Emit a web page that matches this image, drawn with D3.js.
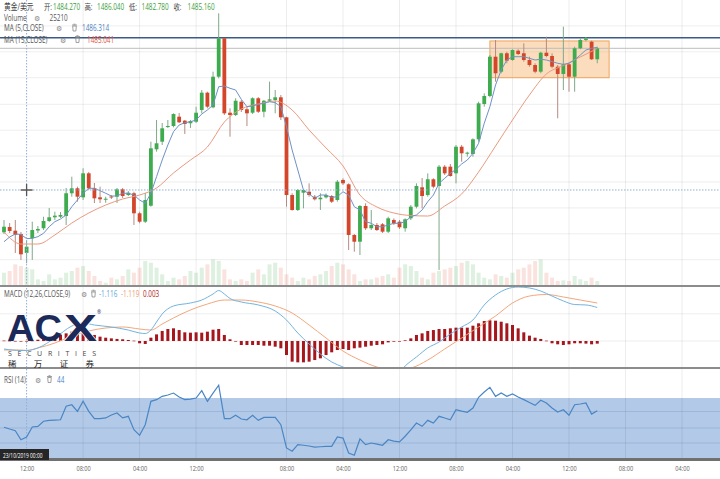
<!DOCTYPE html>
<html>
<head>
<meta charset="utf-8">
<script src="https://cdn.jsdelivr.net/npm/d3@7/dist/d3.min.js"></script>
<style>
  body { margin: 0; background: #fff; }
  svg { display: block; font-family: "Open Sans", "Noto Sans", "Noto Sans CJK SC", sans-serif; }
</style>
</head>
<body>
<div id="chart"></div>
<script>
// 2h candles, XAU/USD
const openP = [1487.21,1487.97,1487.44,1486.97,1484.27,1486.36,1487.47,1487.79,1488.83,1489.36,
  1489.44,1489.54,1492.79,1493.50,1492.21,1495.64,1493.50,1492.21,1491.87,1492.33,
  1492.30,1493.36,1492.54,1492.79,1489.93,1488.73,1491.01,1499.07,1500.16,1502.26,
  1502.40,1503.73,1503.16,1502.79,1503.01,1504.69,1507.16,1505.07,1509.44,1514.93,
  1504.30,1503.97,1505.87,1504.79,1504.30,1506.36,1504.44,1506.01,1506.11,1506.50,
  1503.64,1492.54,1490.40,1492.87,1493.01,1492.30,1491.93,1492.21,1492.40,1491.83,
  1494.69,1494.07,1486.83,1485.87,1490.97,1487.79,1488.26,1488.36,1487.30,1488.97,
  1488.73,1487.79,1489.21,1490.87,1493.64,1492.54,1494.79,1493.83,1496.59,1496.59,
  1495.64,1499.44,1498.44,1498.40,1500.50,1505.54,1506.69,1512.30,1510.16,1512.79,
  1511.83,1513.16,1512.79,1511.83,1511.11,1510.16,1512.87,1512.40,1510.87,1509.83,
  1511.21,1509.44,1513.50,1514.69,1514.44,1511.93];
const highP = [1488.97,1488.54,1488.97,1487.26,1486.04,1488.73,1488.11,1489.44,1490.69,1490.16,
  1490.11,1493.54,1495.16,1493.73,1496.36,1495.83,1494.26,1493.73,1492.30,1492.54,
  1493.54,1493.54,1493.11,1493.01,1490.16,1492.83,1500.16,1503.26,1502.83,1503.26,
  1504.21,1504.26,1503.26,1503.26,1505.16,1507.54,1507.30,1510.16,1518.50,1514.97,
  1504.93,1506.36,1506.11,1505.16,1506.50,1506.54,1506.11,1508.73,1507.54,1506.83,
  1503.73,1492.79,1493.40,1493.36,1494.21,1492.54,1492.79,1492.76,1492.54,1494.69,
  1494.93,1494.21,1486.97,1491.11,1491.36,1490.40,1488.54,1488.54,1489.44,1489.21,
  1488.97,1489.21,1491.11,1494.21,1494.97,1495.64,1494.93,1496.83,1496.83,1496.97,
  1499.69,1499.69,1498.73,1500.64,1505.87,1507.07,1512.54,1514.69,1512.87,1513.01,
  1513.36,1513.36,1514.21,1512.30,1511.36,1513.01,1515.16,1512.79,1511.11,1516.59,
  1511.36,1513.73,1514.93,1515.11,1514.59,1513.73];
const lowP = [1486.97,1487.11,1484.26,1483.26,1482.78,1483.26,1487.11,1487.54,1488.69,1488.97,
  1489.26,1488.26,1492.30,1491.59,1491.83,1493.26,1491.40,1491.40,1491.44,1491.97,
  1491.40,1492.11,1492.40,1488.26,1488.50,1488.54,1490.87,1498.73,1499.69,1502.11,
  1502.21,1502.83,1501.26,1502.11,1502.83,1504.21,1504.93,1504.93,1509.21,1503.97,
  1500.87,1503.83,1504.40,1502.40,1504.11,1504.26,1503.64,1505.87,1504.21,1503.26,
  1490.87,1490.30,1490.26,1490.64,1492.30,1491.76,1490.40,1492.04,1491.40,1491.59,
  1493.97,1484.69,1484.44,1483.97,1487.54,1487.54,1487.40,1487.11,1487.11,1488.26,
  1487.69,1487.30,1488.97,1490.64,1490.64,1492.30,1493.50,1481.83,1495.40,1495.16,
  1494.21,1497.30,1498.01,1498.01,1500.16,1505.16,1506.50,1508.73,1509.93,1511.36,
  1511.73,1512.54,1511.59,1510.87,1509.93,1509.93,1512.21,1510.64,1503.50,1507.54,
  1507.30,1507.30,1513.36,1514.47,1511.83,1511.36];
const closeP = [1488.01,1487.40,1486.87,1484.07,1485.16,1487.54,1487.69,1488.83,1489.36,1489.59,
  1489.69,1492.79,1493.50,1492.30,1495.64,1493.50,1492.07,1491.93,1492.01,1492.19,
  1493.36,1492.40,1492.87,1489.93,1488.73,1491.83,1499.21,1499.93,1502.07,1502.40,
  1504.11,1502.93,1502.69,1503.11,1504.30,1507.16,1505.16,1509.44,1514.93,1504.21,
  1503.97,1506.01,1504.69,1504.21,1506.36,1504.44,1506.01,1506.21,1506.50,1503.64,
  1492.54,1490.40,1493.26,1493.26,1492.54,1491.93,1492.16,1492.54,1491.59,1494.44,
  1494.21,1486.83,1485.87,1490.97,1487.79,1488.26,1487.54,1487.30,1489.21,1488.50,
  1487.93,1489.07,1490.87,1493.83,1492.40,1494.79,1493.73,1496.59,1495.64,1495.26,
  1499.44,1498.50,1498.59,1500.50,1505.64,1506.69,1512.30,1509.93,1512.79,1511.73,
  1513.26,1512.69,1511.83,1511.11,1510.16,1512.87,1512.40,1510.87,1509.83,1511.21,
  1509.44,1513.50,1514.69,1514.90,1511.93,1513.50];
const volume = [18360,20660,29840,27540,25210,22950,9180,6890,16070,9180,
  11480,18360,20660,25250,27540,20660,13770,6890,4590,11480,
  9180,13770,22950,18360,25250,34430,32130,25250,16070,6890,
  11480,9180,13770,20660,18360,25250,29840,36720,34430,22950,
  9180,6890,9180,6890,18360,22950,16070,29840,32130,25250,
  16070,11480,6890,11480,9180,13770,16070,20660,27540,32130,
  29840,22950,16070,6890,9180,9180,11480,13770,16070,11480,
  25250,29840,27540,20660,11480,9180,18360,20660,22950,25250,
  27540,32130,34430,29840,18360,11480,9180,16070,13770,11480,
  18360,22950,25250,29840,34430,36720,18360,11480,6890,7800,
  6890,13770,9180,6890,11480,6890];
const ma5 = [1485.87,1486.54,1486.97,1486.90,1486.31,1486.36,1486.59,1487.07,1488.01,1488.73,
  1489.11,1489.69,1490.87,1491.83,1492.79,1493.50,1493.50,1493.16,1492.79,1492.40,
  1492.40,1492.79,1492.79,1492.54,1491.83,1491.36,1492.79,1495.16,1497.54,1499.69,
  1501.59,1502.54,1502.87,1503.01,1503.26,1504.11,1504.69,1505.40,1508.01,1508.11,
  1507.79,1507.54,1506.21,1505.16,1505.26,1505.50,1505.64,1505.87,1505.73,1505.16,
  1502.30,1498.97,1496.11,1493.26,1492.69,1492.07,1492.54,1492.54,1492.21,1492.30,
  1493.01,1492.54,1490.87,1490.40,1488.73,1488.50,1488.01,1488.01,1488.26,1488.50,
  1488.50,1488.73,1489.44,1489.69,1490.40,1491.59,1492.54,1494.21,1494.93,1495.64,
  1496.21,1496.97,1497.54,1498.50,1499.93,1502.79,1505.16,1508.26,1510.40,1511.83,
  1512.30,1512.30,1512.30,1512.07,1511.83,1511.93,1511.83,1511.59,1511.36,1511.21,
  1511.36,1511.83,1512.54,1513.26,1513.50,1513.64];
const ma15Idx = [0,3,6,9,12,15,18,21,24,27,30,33,36,39,42,45,48,51,54,57,60,63,66,69,72,75,78,81,84,87,90,93,96,99,102,105];
const ma15 = [1487.26,1485.54,1485.54,1486.83,1488.54,1489.97,1491.11,1491.97,1492.54,1493.54,
  1495.69,1497.54,1499.40,1502.97,1504.83,1505.54,1505.97,1504.69,1501.83,1499.26,
  1496.69,1492.54,1490.83,1489.97,1489.61,1489.54,1490.97,1492.69,1495.83,1499.54,
  1503.26,1506.83,1509.83,1511.04,1512.26,1513.47];
const macdIdx = [0,3,4,6,9,12,14,16,19,22,24,25,26,27,28,30,33,35,37,38,39,40,42,45,48,50,52,54,56,58,
  60,62,64,66,68,70,71,73,75,77,79,81,83,85,87,89,91,93,95,97,99,101,103,105];
const macdLine = [-0.94,-1.12,-1.116,-0.82,0.35,1.76,2.12,1.88,1.65,1.29,0.94,0.88,1.29,2.24,3.18,4.12,4.47,4.82,5.53,5.94,
  5.53,5.00,4.59,4.24,3.53,2.47,0.94,-0.35,-1.53,-2.47,-3.06,-3.65,-4.12,-4.24,-4.24,-3.65,-2.94,-1.88,-0.82,-0.12,
  0.82,1.65,2.47,4.24,5.41,6.12,6.35,6.24,5.88,5.29,4.71,4.29,4.24,3.94];
const signalIdx = [0,3,4,6,9,12,15,18,21,24,26,28,30,33,36,39,42,45,48,51,54,57,60,63,66,69,72,75,78,81,84,87,90,93,96,99,102,105];
const signalLine = [-1.06,-1.06,-1.119,-0.82,-0.24,0.59,1.18,1.53,1.65,1.41,1.29,2.00,2.71,3.65,4.35,4.82,4.82,4.59,4.12,3.29,
  1.88,0.35,-1.18,-2.24,-3.06,-3.41,-3.18,-2.24,-0.94,0.35,1.65,2.94,4.47,5.29,5.47,5.18,4.82,4.47];
const macdHist = [0.05,0.03,0.01,-0.01,0.003,0.05,0.15,0.3,0.45,0.6,
  0.75,0.90,1.10,1.18,1.10,0.98,0.71,0.51,0.39,0.31,
  0.24,0.20,0.12,0.04,-0.27,-0.35,0.39,0.78,1.18,1.41,
  1.49,1.29,1.02,0.98,1.02,0.98,1.10,1.33,1.41,0.71,
  0.20,-0.05,-0.47,-0.47,-0.47,-0.47,-0.55,-0.55,-0.67,-0.86,
  -1.65,-2.43,-2.51,-2.51,-2.43,-2.24,-2.04,-1.65,-1.33,-1.06,
  -0.94,-1.06,-0.86,-0.78,-0.67,-0.55,-0.47,-0.39,-0.16,-0.08,
  -0.02,0.08,0.31,0.71,0.90,1.18,1.29,1.41,1.41,1.49,
  1.57,1.57,1.57,1.80,2.08,2.35,2.43,2.39,2.27,2.08,
  1.88,1.49,1.02,0.63,0.39,0.24,0.04,-0.27,-0.39,-0.47,
  -0.39,-0.27,-0.27,-0.31,-0.39,-0.31];
const rsi = [50.5,49.3,48.2,42.2,44,50.7,51.1,54.5,55.1,55.3,
  55.5,64.5,65.5,61.1,67.8,61.1,56.2,56.3,56.7,58.7,
  60.0,56.7,57.8,48.9,45.1,52.2,67.8,68.9,71.1,72.0,
  73.3,70.7,68.9,69.3,70.0,74.9,67.8,73.3,78.5,56.2,
  56.2,58.5,56.0,55.5,58.5,55.1,57.1,57.1,57.1,52.2,
  36.7,34.5,38.9,38.5,38.0,37.3,37.5,37.7,37.8,44.0,
  43.3,33.3,31.8,42.7,38.9,40.0,39.3,38.5,42.2,41.3,
  40.7,44.5,48.7,53.3,51.1,55.1,53.3,57.8,56.7,55.5,
  62.2,61.3,60.5,63.3,70.5,74.0,77.1,71.1,73.3,71.1,
  72.7,70.7,68.9,67.0,65.1,68.5,66.7,63.3,60.7,62.2,
  58.5,65.5,66.0,66.7,59.3,61.5];

const tickIdx = [4,14,24,34,50,60,70,80,90,100,110,120];
const tickLabels = ['12:00','08:00','04:00','12:00','08:00','04:00','12:00','08:00','04:00','12:00','08:00','04:00'];
const priceGrid = [1516.7,1513.0,1509.3,1505.5,1501.8,1498.1,1494.4,1490.7,1487.0,1483.3];
const macdGrid = [0, 3.2];
const rsiGrid = [40, 50, 61];

const resistance = 1515.0;      // dark horizontal line
const lastClose = 1513.50;      // grey price line
const zone = { i0: 86, i1: 107.1, p0: 1509.3, p1: 1514.55 };  // orange box
const cursor = { i: 4, p: 1493.26 };

const W = 720, H = 479;
const SQ = 0.75;   // picture is squeezed horizontally

const svg = d3.select('#chart').append('svg').attr('width', W).attr('height', H);

const x = d3.scaleLinear().domain([0, 126]).range([4, 4 + 5.65 * 126]);
const y = d3.scaleLinear().domain([1480, 1520.4]).range([282.8, 0]);
const yVol = d3.scaleLinear().domain([0, 40000]).range([286, 257]);
const yMacd = d3.scaleLinear().domain([-5, 6]).range([383.5, 290]);
const yRsi = d3.scaleLinear().domain([30, 90]).range([458, 368]);

const defs = svg.append('defs');
defs.append('clipPath').attr('id', 'clipMain').append('rect').attr('x', 0).attr('y', 0).attr('width', W).attr('height', 285);
defs.append('clipPath').attr('id', 'clipMacd').append('rect').attr('x', 0).attr('y', 287).attr('width', W).attr('height', 80);
defs.append('clipPath').attr('id', 'clipRsi').append('rect').attr('x', 0).attr('y', 369).attr('width', W).attr('height', 89);

const idx = d3.range(openP.length);

// RSI band 30-70
svg.append('rect')
  .attr('x', 0).attr('width', W)
  .attr('y', yRsi(70)).attr('height', yRsi(30) - yRsi(70))
  .attr('fill', '#b2c9e8');

// grid
const grid = svg.append('g').attr('stroke', 'rgba(0,0,0,0.07)').attr('stroke-width', 1);
grid.selectAll('line.v').data(tickIdx.slice(1)).join('line')
  .attr('x1', d => x(d)).attr('x2', d => x(d)).attr('y1', 0).attr('y2', 458);
grid.selectAll('line.p').data(priceGrid).join('line')
  .attr('x1', 0).attr('x2', W).attr('y1', d => y(d)).attr('y2', d => y(d));
grid.selectAll('line.m').data(macdGrid).join('line')
  .attr('x1', 0).attr('x2', W).attr('y1', d => yMacd(d)).attr('y2', d => yMacd(d));
grid.selectAll('line.r').data(rsiGrid).join('line')
  .attr('x1', 0).attr('x2', W).attr('y1', d => yRsi(d)).attr('y2', d => yRsi(d))
  .attr('stroke', 'rgba(60,100,160,0.18)');

// main panel
const main = svg.append('g').attr('clip-path', 'url(#clipMain)');

main.selectAll('rect.vol').data(idx).join('rect')
  .attr('x', i => x(i) - 2).attr('width', 4)
  .attr('y', i => yVol(volume[i])).attr('height', i => yVol(0) - yVol(volume[i]))
  .attr('fill', i => closeP[i] >= openP[i] ? 'rgba(70,170,80,0.18)' : 'rgba(225,100,75,0.18)');

main.append('rect')
  .attr('x', x(zone.i0)).attr('width', x(zone.i1) - x(zone.i0))
  .attr('y', y(zone.p1)).attr('height', y(zone.p0) - y(zone.p1))
  .attr('fill', 'rgba(246,170,90,0.4)').attr('stroke', '#eea55c').attr('stroke-width', 1);

main.append('line').attr('x1', 0).attr('x2', W).attr('y1', y(lastClose)).attr('y2', y(lastClose))
  .attr('stroke', '#bdbdbd').attr('stroke-width', 1);
main.append('line').attr('x1', 0).attr('x2', W).attr('y1', y(resistance)).attr('y2', y(resistance))
  .attr('stroke', '#3b5b86').attr('stroke-width', 1.5);

// crosshair
svg.append('line').attr('x1', 0).attr('x2', W).attr('y1', y(cursor.p)).attr('y2', y(cursor.p))
  .attr('stroke', '#8fb0d8').attr('stroke-dasharray', '1.5,1.5');
svg.append('line').attr('x1', x(cursor.i)).attr('x2', x(cursor.i)).attr('y1', 0).attr('y2', 458)
  .attr('stroke', '#8fb0d8').attr('stroke-dasharray', '1.5,1.5');

// candles
const up = '#3fab4f', down = '#d4462a';
main.selectAll('line.wick').data(idx).join('line')
  .attr('x1', i => x(i)).attr('x2', i => x(i))
  .attr('y1', i => y(highP[i])).attr('y2', i => y(lowP[i]))
  .attr('stroke', i => closeP[i] >= openP[i] ? '#7fa889' : '#b58a80').attr('stroke-width', 1);
main.selectAll('rect.body').data(idx).join('rect')
  .attr('x', i => x(i) - 1.9).attr('width', 3.8)
  .attr('y', i => y(Math.max(openP[i], closeP[i])))
  .attr('height', i => Math.max(1, Math.abs(y(openP[i]) - y(closeP[i]))))
  .attr('fill', i => closeP[i] >= openP[i] ? up : down);

// moving averages
main.append('path').datum(ma15.map((v, k) => [ma15Idx[k], v]))
  .attr('fill', 'none').attr('stroke', '#e99a80').attr('stroke-width', 1)
  .attr('d', d3.line().x(d => x(d[0])).y(d => y(d[1])).curve(d3.curveMonotoneX));
main.append('path').datum(ma5)
  .attr('fill', 'none').attr('stroke', '#6f92c6').attr('stroke-width', 1)
  .attr('d', d3.line().x((d, i) => x(i)).y(d => y(d)));

// MACD panel
const macdG = svg.append('g').attr('clip-path', 'url(#clipMacd)');
macdG.selectAll('rect.hist').data(idx).join('rect')
  .attr('x', i => x(i) - 1.5).attr('width', 3)
  .attr('y', i => yMacd(Math.max(0, macdHist[i])))
  .attr('height', i => Math.max(0.6, Math.abs(yMacd(macdHist[i]) - yMacd(0))))
  .attr('fill', '#a5161d');
macdG.append('path').datum(signalLine.map((v, k) => [signalIdx[k], v]))
  .attr('fill', 'none').attr('stroke', '#f2a77c').attr('stroke-width', 1)
  .attr('d', d3.line().x(d => x(d[0])).y(d => yMacd(d[1])).curve(d3.curveMonotoneX));
macdG.append('path').datum(macdLine.map((v, k) => [macdIdx[k], v]))
  .attr('fill', 'none').attr('stroke', '#72b4de').attr('stroke-width', 1)
  .attr('d', d3.line().x(d => x(d[0])).y(d => yMacd(d[1])).curve(d3.curveMonotoneX));

// RSI panel
svg.append('g').attr('clip-path', 'url(#clipRsi)')
  .append('path').datum(rsi)
  .attr('fill', 'none').attr('stroke', '#4a86c4').attr('stroke-width', 1.2)
  .attr('d', d3.line().x((d, i) => x(i)).y(d => yRsi(d)));

// panel separators
svg.append('line').attr('x1', 0).attr('x2', W).attr('y1', 286).attr('y2', 286).attr('stroke', '#8c8c8c').attr('stroke-width', 2);
svg.append('line').attr('x1', 0).attr('x2', W).attr('y1', 368).attr('y2', 368).attr('stroke', '#8c8c8c').attr('stroke-width', 2);
svg.append('line').attr('x1', 0).attr('x2', W).attr('y1', 459.5).attr('y2', 459.5).attr('stroke', '#707070').attr('stroke-width', 3);

// squeezed text helper
function label(str, px, py, color, size, anchor) {
  return svg.append('text')
    .attr('transform', `translate(${px},${py}) scale(${SQ},1)`)
    .attr('font-size', size || 8.5)
    .attr('fill', color || '#555')
    .attr('text-anchor', anchor || 'start')
    .text(str);
}
function gear(px, py) {
  svg.append('text').attr('x', px).attr('y', py).attr('font-size', 7)
    .attr('font-family', 'DejaVu Sans').attr('fill', '#888').text('\u2699');
}
function trash(px, py) {
  svg.append('path')
    .attr('d', `M${px},${py - 6}h5M${px + 1.5},${py - 6.8}h2M${px + 0.7},${py - 5}h3.6l-0.4,5h-2.8z`)
    .attr('fill', 'none').attr('stroke', '#888').attr('stroke-width', 0.8);
}

// header
const green = '#3c9e3c';
label('黄金/美元', 4, 10, '#444', 9);
label('开:', 44, 10, '#444'); label('1484.270', 53, 10, green);
label('高:', 84.5, 10, '#444'); label('1486.040', 97, 10, green);
label('低:', 129, 10, '#444'); label('1482.780', 141.5, 10, green);
label('收:', 173.5, 10, '#444'); label('1485.160', 187.5, 10, green);

label('Volume', 4, 20.5, '#555'); gear(34, 20.5); label('25210', 49.5, 20.5, '#555');
label('MA (5,CLOSE)', 4, 31, '#555'); gear(56, 31); trash(72, 31); label('1486.314', 82, 31, '#4d7fc2');
label('MA (15,CLOSE)', 4, 42.5, '#555'); gear(60, 42.5); trash(75, 42.5); label('1485.041', 87, 42.5, '#e0563e');

label('MACD (12,26,CLOSE,9)', 4, 297, '#555');
gear(81, 297); trash(91, 297);
label('-1.116', 99, 297, '#5aa8d8'); label('-1.119', 121, 297, '#ee9a6c'); label('0.003', 143, 297, '#b01c20');

label('RSI (14)', 4, 382.5, '#555');
gear(35, 382.5); trash(47, 382.5);
label('44', 57, 382.5, '#4a86c4');

// time axis
const axis = svg.append('g').attr('transform', 'translate(0,468)')
  .call(d3.axisBottom(x).tickValues(tickIdx).tickFormat((d, i) => tickLabels[i]).tickSize(0));
axis.select('.domain').remove();
axis.selectAll('text')
  .attr('fill', '#666').attr('font-size', 7.5).attr('dy', 0)
  .attr('font-family', '"Open Sans", sans-serif')
  .attr('transform', `scale(${SQ},1)`);

// cursor date box
svg.append('rect').attr('x', 0).attr('y', 449).attr('width', 49).attr('height', 11).attr('fill', '#262626');
label('23/10/2019  00:00', 3, 457.5, '#fff', 6.5);

// cursor cross
const cx = x(cursor.i), cy = y(cursor.p);
svg.append('path').attr('d', `M${cx - 6},${cy}h12M${cx},${cy - 6}v12`)
  .attr('stroke', '#fff').attr('stroke-width', 3);
svg.append('path').attr('d', `M${cx - 6},${cy}h12M${cx},${cy - 6}v12`)
  .attr('stroke', '#555').attr('stroke-width', 1.3);

// logo
const logo = svg.append('g');
logo.append('text').attr('x', 7).attr('y', 340.5)
  .attr('font-family', '"Liberation Sans", Arial, sans-serif').attr('font-weight', 'bold')
  .attr('font-size', 36).attr('fill', '#1c2a5a')
  .attr('textLength', 55).attr('lengthAdjust', 'spacingAndGlyphs').text('AC');
logo.append('text').attr('x', 64).attr('y', 340.5)
  .attr('font-family', '"Liberation Sans", Arial, sans-serif').attr('font-weight', 'bold')
  .attr('font-size', 36).attr('fill', '#1c2a5a').attr('stroke', '#fff').attr('stroke-width', 1.2)
  .attr('paint-order', 'stroke')
  .attr('textLength', 33).attr('lengthAdjust', 'spacingAndGlyphs').text('X');
logo.append('text').attr('x', 97).attr('y', 314).attr('font-size', 5).attr('fill', '#1c2a5a').text('®');
logo.append('text').attr('x', 8).attr('y', 356)
  .attr('font-size', 7).attr('fill', '#444')
  .attr('textLength', 88).attr('lengthAdjust', 'spacing').text('SECURITIES');
logo.append('text').attr('x', 8).attr('y', 366.5)
  .attr('font-family', '"Noto Sans CJK SC", sans-serif')
  .attr('font-size', 8.5).attr('fill', '#222')
  .attr('textLength', 86).attr('lengthAdjust', 'spacing').text('稀万证券');
</script>
</body>
</html>
